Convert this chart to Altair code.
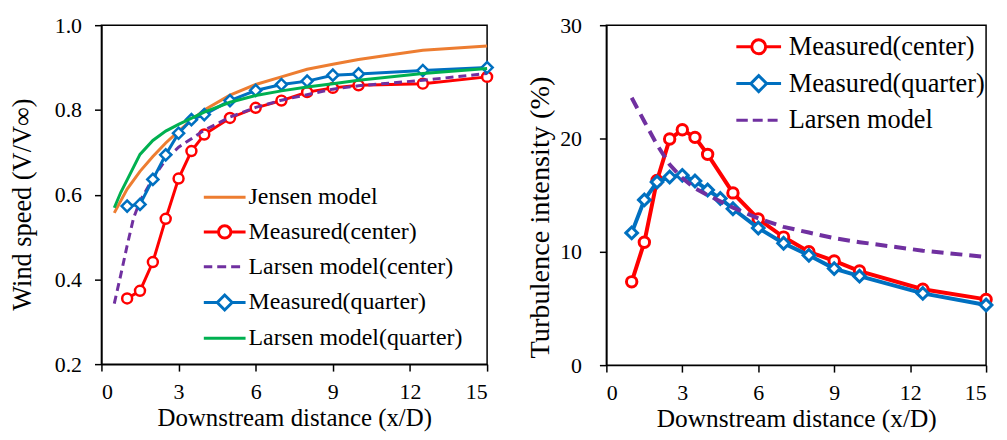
import altair as alt
import pandas as pd

FONT = "Liberation Serif, Times New Roman, serif"

# ---------------- Left panel: wind speed ----------------
L_series = ["Jensen model", "Measured(center)", "Larsen model(center)",
            "Measured(quarter)", "Larsen model(quarter)"]
L_colors = ["#ED7D31", "#FF0000", "#7030A0", "#0070C0", "#00B050"]

jensen_x = [0.5, 1, 1.5, 2, 2.5, 3, 3.5, 4, 5, 6, 7, 8, 9, 10, 11, 12.5, 15]
jensen_y = [0.557, 0.613, 0.655, 0.690, 0.722, 0.750, 0.776, 0.800, 0.835, 0.860,
            0.878, 0.896, 0.908, 0.919, 0.928, 0.941, 0.951]

meas_x = [1, 1.5, 2, 2.5, 3, 3.5, 4, 5, 6, 7, 8, 9, 10, 12.5, 15]
center_y = [0.355, 0.373, 0.441, 0.543, 0.638, 0.703, 0.742, 0.781, 0.805, 0.822,
            0.842, 0.852, 0.858, 0.862, 0.878]
quarter_y = [0.573, 0.577, 0.636, 0.694, 0.745, 0.777, 0.789, 0.822, 0.846, 0.860,
             0.868, 0.882, 0.885, 0.893, 0.900]

larsen_c_x = [0.5, 0.75, 1, 1.25, 1.5, 2, 2.5, 3, 4, 5, 6, 7, 8, 9, 10, 12.5, 15]
larsen_c_y = [0.343, 0.410, 0.480, 0.545, 0.585, 0.638, 0.683, 0.712, 0.752, 0.783,
              0.806, 0.823, 0.836, 0.849, 0.857, 0.870, 0.886]

larsen_q_x = [0.5, 0.75, 1, 1.5, 2, 2.5, 3, 4, 5, 6, 7, 8, 9, 10, 12.5, 15]
larsen_q_y = [0.569, 0.605, 0.635, 0.695, 0.728, 0.750, 0.766, 0.795, 0.818, 0.834,
              0.845, 0.854, 0.862, 0.870, 0.886, 0.898]

# ---------------- Right panel: turbulence intensity ----------------
R_series = ["Measured(center)", "Measured(quarter)", "Larsen model"]
R_colors = ["#FF0000", "#0070C0", "#7030A0"]

ti_center_x = [1, 1.5, 2, 2.5, 3, 3.5, 4, 5, 6, 7, 8, 9, 10, 12.5, 15]
ti_center_y = [7.35, 10.85, 16.3, 19.95, 20.77, 20.1, 18.6, 15.2, 12.9, 11.3,
               10.0, 9.2, 8.3, 6.7, 5.8]
ti_quarter_x = [1, 1.5, 2, 2.5, 3, 3.5, 4, 4.5, 5, 6, 7, 8, 9, 10, 12.5, 15]
ti_quarter_y = [11.67, 14.58, 16.16, 16.6, 16.75, 16.25, 15.46, 14.7, 13.8, 12.1,
                10.76, 9.69, 8.52, 7.85, 6.33, 5.31]
ti_larsen_x = [1, 1.5, 2, 2.5, 3, 3.5, 4, 5, 6, 7, 8, 9, 10, 12.5, 15]
ti_larsen_y = [23.6, 21.5, 19.45, 17.7, 16.5, 15.6, 15.0, 13.9, 12.95, 12.2,
               11.7, 11.2, 10.85, 10.1, 9.54]

x_ticks = [0, 3, 6, 9, 12, 15]
L_y_ticks = [0.2, 0.4, 0.6, 0.8, 1.0]
R_y_ticks = [0, 10, 20, 30]


def frame(pairs):
    rows = []
    for name, xs, ys in pairs:
        for xv, yv in zip(xs, ys):
            rows.append({"series": name, "x": xv, "y": yv})
    return pd.DataFrame(rows)


df_left = frame([
    (L_series[0], jensen_x, jensen_y),
    (L_series[1], meas_x, center_y),
    (L_series[2], larsen_c_x, larsen_c_y),
    (L_series[3], meas_x, quarter_y),
    (L_series[4], larsen_q_x, larsen_q_y),
])
df_right = frame([
    (R_series[0], ti_center_x, ti_center_y),
    (R_series[1], ti_quarter_x, ti_quarter_y),
    (R_series[2], ti_larsen_x, ti_larsen_y),
])

# legend symbols: line + marker (custom paths)
L_paths = [
    "M-2.1,0L2.1,0",
    "M-2.1,0L-0.62,0M0.62,0L2.1,0M-0.62,0A0.62,0.62 0 1 1 0.62,0A0.62,0.62 0 1 1 -0.62,0Z",
    "M-2.1,0L-1.25,0M-0.75,0L0.15,0M0.65,0L1.55,0",
    "M-2.1,0L-0.75,0M0.75,0L2.1,0M-0.75,0L0,-0.75L0.75,0L0,0.75Z",
    "M-2.1,0L2.1,0",
]
R_paths = [
    "M-2.25,0L-0.7,0M0.7,0L2.25,0M-0.7,0A0.7,0.7 0 1 1 0.7,0A0.7,0.7 0 1 1 -0.7,0Z",
    "M-2.25,0L-0.8,0M0.8,0L2.25,0M-0.8,0L0,-0.8L0.8,0L0,0.8Z",
    "M-2.25,0L-1.1,0M-0.6,0L0.4,0M0.9,0L1.9,0",
]


def panel(df, series, colors, paths, y_title, y_dom, y_ticks, y_fmt,
          lw, dash, msize, mstroke, legend_kw, y_axis_kw, x_axis_kw, width, height):
    x_enc = alt.X("x:Q", scale=alt.Scale(domain=[0, 15], nice=False),
                  axis=alt.Axis(values=x_ticks, title="Downstream distance (x/D)",
                                labelPadding=10.5, **x_axis_kw))
    y_enc = alt.Y("y:Q", scale=alt.Scale(domain=y_dom, nice=False),
                  axis=alt.Axis(values=y_ticks, format=y_fmt, title=y_title, **y_axis_kw))
    base = alt.Chart(df)
    layers = []
    for s, c in zip(series, colors):
        sub = base.transform_filter(alt.datum.series == s)
        if s.startswith("Larsen model(center)") or s == "Larsen model":
            ln = sub.mark_line(strokeWidth=lw, strokeDash=dash, color=c)
        else:
            ln = sub.mark_line(strokeWidth=lw, color=c)
        layers.append(ln.encode(x=x_enc, y=y_enc))
        if s.startswith("Measured"):
            shp = "circle" if "center" in s else "diamond"
            sz = msize if shp == "circle" else msize * 1.25
            layers.append(sub.mark_point(shape=shp, size=sz, filled=False, fill="white",
                                         stroke=c, strokeWidth=mstroke, opacity=1)
                          .encode(x=x_enc, y=y_enc))
    leg = alt.Legend(title=None, orient="none", padding=0, symbolSize=400,
                     symbolStrokeWidth=3, symbolOffset=0, symbolFillColor="white",
                     symbolOpacity=1, labelFont=FONT, labelColor="black", labelLimit=0,
                     **legend_kw)
    dummy = base.mark_point(opacity=0, filled=False).encode(
        x=x_enc, y=y_enc,
        color=alt.Color("series:N", scale=alt.Scale(domain=series, range=colors), legend=leg),
        shape=alt.Shape("series:N", scale=alt.Scale(domain=series, range=paths), legend=leg),
    )
    layers.append(dummy)
    return alt.layer(*layers).properties(width=width, height=height)


left = panel(df_left, L_series, L_colors, L_paths, "Wind speed (V/V∞)",
             [0.2, 1.0], L_y_ticks, ".1f", 3, [8, 5], 100, 2.5,
             dict(legendX=112, legendY=161, labelOffset=12, labelFontSize=24, rowPadding=10),
             dict(labelPadding=13, titlePadding=18, titleFontSize=26.5, titleY=180),
             dict(titleFontSize=25, titlePadding=3),
             388, 341)
right = panel(df_right, R_series, R_colors, R_paths, "Turbulence intensity (%)",
              [0, 30], R_y_ticks, "d", 4, [12, 7], 110, 3,
              dict(legendX=140, legendY=8.5, labelOffset=17, labelFontSize=26.5, rowPadding=9),
              dict(labelPadding=18, titlePadding=5, titleFontSize=28.5, titleY=193),
              dict(titleFontSize=25.5, titlePadding=3),
              382, 342)

chart = alt.hconcat(left, right, spacing=26).resolve_scale(
    color="independent", shape="independent"
).properties(
    padding={"left": 0, "top": 4, "right": 0, "bottom": 0}
).configure_view(stroke="black", strokeWidth=1.5).configure_axis(
    labelFont=FONT, titleFont=FONT, labelFontSize=22, titleFontWeight="normal",
    labelColor="black", titleColor="black", domainColor="black", tickColor="black",
    domainWidth=1.5, tickWidth=1.5, tickSize=7, grid=False
)

chart.save("out.html", embed_options={"renderer": "svg", "actions": False})
